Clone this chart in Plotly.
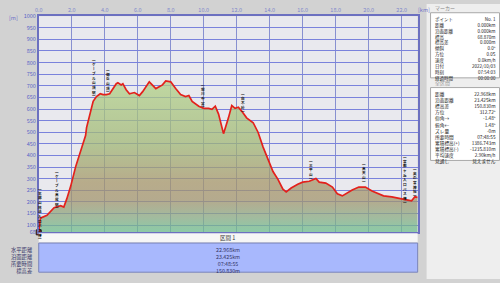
import plotly.graph_objects as go

# ---- data ----
dist_km = [0, 0.1, 0.5, 0.93, 1.33, 1.52, 1.7, 1.94, 2.24, 2.54, 2.72, 2.84, 2.9, 3.13, 3.3, 3.5,
           3.73, 3.9, 4.1, 4.3, 4.5, 4.7, 4.8, 5.0, 5.1, 5.3, 5.5, 5.8, 6.1, 6.3, 6.7, 6.9, 7.1,
           7.3, 7.5, 7.7, 8.0, 8.3, 8.6, 8.9, 9.1, 9.3, 9.7, 10.0, 10.3, 10.5, 10.7, 10.9, 11.2,
           11.5, 11.7, 11.9, 12.1, 12.3, 12.6, 13.0, 13.3, 13.6, 13.9, 14.2, 14.5, 14.8, 15.0,
           15.3, 15.7, 16.0, 16.4, 16.8, 17.0, 17.4, 17.8, 18.1, 18.4, 18.7, 19.0, 19.4, 19.8,
           20.2, 20.6, 20.9, 21.4, 21.9, 22.3, 22.6, 22.8, 22.968]
elev_m = [68.87, 130, 142, 175, 184, 178, 213, 268, 352, 423, 465, 486, 520, 591, 633, 654,
          666, 662, 662, 666, 688, 709, 713, 704, 709, 683, 666, 671, 658, 675, 717, 704, 688,
          696, 704, 721, 717, 688, 662, 654, 658, 633, 612, 603, 603, 599, 612, 578, 494,
          562, 615, 603, 608, 591, 562, 541, 499, 436, 381, 331, 297, 255, 243,
          260, 276, 285, 289, 301, 285, 281, 264, 235, 226, 239, 251, 264, 264,
          247, 235, 226, 222, 213, 209, 205, 222, 219.7]

x_ticks = [0, 2, 4, 6, 8, 10, 12, 14, 16, 18, 20, 22]
x_ticktext = ["0.0", "2.0", "4.0", "6.0", "8.0", "10.0", "12.0", "14.0", "16.0", "18.0", "20.0", "22.0"]
y_ticks = [68.87] + list(range(100, 1001, 50))
y_ticktext = ["68"] + [str(v) for v in range(100, 1001, 50)]

wp_names = ["本郷山林道入口バス停", "ケーブル高尾駅", "ケーブル山頂駅", "御岳山頂", "堀川中富",
            "白木峠", "三平山", "高天山", "宮都ヶ丘入口バス停", "奥の宮神社"]
wp_km = [0.08, 1.13, 3.34, 4.2, 9.98, 12.4, 16.5, 19.73, 22.2, 22.82]
wp_top_m = [275, 350, 832, 790, 727, 685, 397, 383, 417, 362]

marker_labels = ["ポイント", "距離", "沿面距離", "標高", "標高差", "傾斜", "方位", "速度",
                 "日付", "時刻", "経過時間"]
marker_values = ["No. 1", "0.000km", "0.000km", "68.870m", "0.000m", "0.0°", "0.0S",
                 "0.0km/h", "2022/10/03", "07:54:03", "00:00:00"]
total_labels = ["距離", "沿面距離", "標高差", "方位", "仰角→", "俯角←", "ズレ量", "所要時間",
                "累積標高(+)", "累積標高(-)", "平均速度", "見通し"]
total_values = ["22.968km", "23.425km", "150.830m", "312.72°", "-1.48°", "1.48°", "-0m",
                "07:48:55", "1386.743m", "-1235.810m", "2.90km/h", "見えません"]
section_title = "区間 1"
section_labels = ["水平距離", "沿面距離", "所要時間", "標高差"]
section_values = ["22.968km", "23.425km", "07:48:55", "150.830m"]

W, H = 500, 283
FONT = "Noto Sans CJK JP"


def px(x):
    return x / W


def py(y):
    return 1 - y / H


fig = go.Figure()

fig.add_trace(go.Scatter(
    x=dist_km, y=elev_m, mode="lines",
    line=dict(color="#e3211c", width=1.7),
    fill="tozeroy",
    fillgradient=dict(
        type="vertical", start=68.87, stop=720,
        colorscale=[[0, "rgba(105,192,140,0.74)"], [0.06, "rgba(112,188,140,0.74)"],
                    [0.14, "rgba(138,170,130,0.74)"], [0.25, "rgba(162,148,108,0.74)"],
                    [0.36, "rgba(166,150,104,0.74)"], [0.6, "rgba(160,182,116,0.74)"],
                    [1, "rgba(176,208,134,0.74)"]]),
    hoverinfo="skip", showlegend=False))

fig.add_trace(go.Scatter(
    x=[dist_km[0]], y=[elev_m[0]], mode="markers",
    marker=dict(color="#d01818", size=5, symbol="square", line=dict(color="#202020", width=1)),
    showlegend=False, hoverinfo="skip", cliponaxis=False))

shapes = []
# right panel
shapes.append(dict(type="rect", xref="paper", yref="paper", x0=px(426), x1=1, y0=0, y1=1,
                   fillcolor="#eeeeee", line=dict(width=0), layer="below"))
shapes.append(dict(type="rect", xref="paper", yref="paper", x0=px(430), x1=px(499.5),
                   y0=py(76), y1=py(9), fillcolor="#ffffff", line=dict(color="#a8a8a8", width=1)))
shapes.append(dict(type="rect", xref="paper", yref="paper", x0=px(430), x1=px(499.5),
                   y0=py(161), y1=py(86), fillcolor="#ffffff", line=dict(color="#a8a8a8", width=1)))
# bottom section strips
shapes.append(dict(type="rect", xref="paper", yref="paper", x0=px(35), x1=px(417),
                   y0=py(245.5), y1=py(236), fillcolor="#f6f6f6", line=dict(width=0)))
shapes.append(dict(type="rect", xref="paper", yref="paper", x0=px(35), x1=px(417),
                   y0=py(276), y1=py(246), fillcolor="#a8b8fd", line=dict(color="#7a84b8", width=1)))

ann = []
ROW_F = 4.5  # line height 1.3*4.5 = 5.85 px
panel_font = dict(family=FONT, size=ROW_F, color="#222222")
ann.append(dict(text="マーカー", x=px(432), y=py(4.5), xref="paper", yref="paper",
                xanchor="left", yanchor="middle", showarrow=False,
                font=dict(family=FONT, size=5, color="#888888")))
ann.append(dict(text="全区間", x=px(432), y=py(81), xref="paper", yref="paper",
                xanchor="left", yanchor="middle", showarrow=False,
                font=dict(family=FONT, size=5, color="#999999")))
ann.append(dict(text="<br>".join(marker_labels), x=px(432), y=py(9.8), xref="paper", yref="paper",
                xanchor="left", yanchor="top", align="left", showarrow=False, font=panel_font))
ann.append(dict(text="<br>".join(marker_values), x=px(498), y=py(9.8), xref="paper", yref="paper",
                xanchor="right", yanchor="top", align="right", showarrow=False, font=panel_font))
TOT_F = 4.7
ann.append(dict(text="<br>".join(total_labels), x=px(432), y=py(87.5), xref="paper", yref="paper",
                xanchor="left", yanchor="top", align="left", showarrow=False,
                font=dict(family=FONT, size=TOT_F, color="#222222")))
ann.append(dict(text="<br>".join(total_values), x=px(498), y=py(87.5), xref="paper", yref="paper",
                xanchor="right", yanchor="top", align="right", showarrow=False,
                font=dict(family=FONT, size=TOT_F, color="#222222")))

# axis unit labels
ann.append(dict(text="[m]", x=px(10), y=py(14), xref="paper", yref="paper",
                xanchor="center", yanchor="middle", showarrow=False,
                font=dict(family=FONT, size=5.5, color="#6a70c8")))
ann.append(dict(text="[km]", x=px(423), y=py(6), xref="paper", yref="paper",
                xanchor="center", yanchor="middle", showarrow=False,
                font=dict(family=FONT, size=5.5, color="#6a70c8")))

# bottom section texts
SEC_F = 5.3
ann.append(dict(text=section_title, x=px(225), y=py(241), xref="paper", yref="paper",
                xanchor="center", yanchor="middle", showarrow=False,
                font=dict(family=FONT, size=5.5, color="#333333")))
ann.append(dict(text="<br>".join(section_labels), x=px(31), y=py(246.5), xref="paper", yref="paper",
                xanchor="right", yanchor="top", align="right", showarrow=False,
                font=dict(family=FONT, size=SEC_F, color="#333366")))
ann.append(dict(text="<br>".join(section_values), x=px(226), y=py(246.5), xref="paper", yref="paper",
                xanchor="center", yanchor="top", align="center", showarrow=False,
                font=dict(family=FONT, size=SEC_F, color="#333366")))

# waypoint labels written vertically (upright glyphs stacked)
for name, xk, ym in zip(wp_names, wp_km, wp_top_m):
    glyphs = ["︵"] + [("丨" if c == "ー" else c) for c in name] + ["︶"]
    ann.append(dict(text="<b>" + "<br>".join(glyphs) + "</b>", x=xk, y=ym, xref="x", yref="y",
                    xanchor="center", yanchor="top", showarrow=False,
                    font=dict(family=FONT, size=3.6, color="#151515")))

fig.update_layout(
    width=W, height=H, margin=dict(l=0, r=0, t=0, b=0),
    paper_bgcolor="#d2d2d2", plot_bgcolor="#e9e9ee",
    shapes=shapes, annotations=ann,
    xaxis=dict(domain=[px(35), px(417)], range=[0, 22.968], side="top",
               tickvals=x_ticks, ticktext=x_ticktext, ticks="", ticklen=0,
               tickfont=dict(family=FONT, size=5.5, color="#8088cc"),
               showgrid=True, gridcolor="#8890d0", gridwidth=1, zeroline=False,
               showline=True, linecolor="#6c70c0", linewidth=1.5, mirror=True,
               fixedrange=True),
    yaxis=dict(domain=[py(235), py(12.5)], range=[68.87, 1000],
               tickvals=y_ticks, ticktext=y_ticktext, ticks="",
               tickfont=dict(family=FONT, size=5.5, color="#5a64c8"),
               showgrid=True, gridcolor="#7a82dc", gridwidth=1, zeroline=False,
               showline=True, linecolor="#6c70c0", linewidth=1.5, mirror=True,
               fixedrange=True),
)

fig.write_html("out.html")
